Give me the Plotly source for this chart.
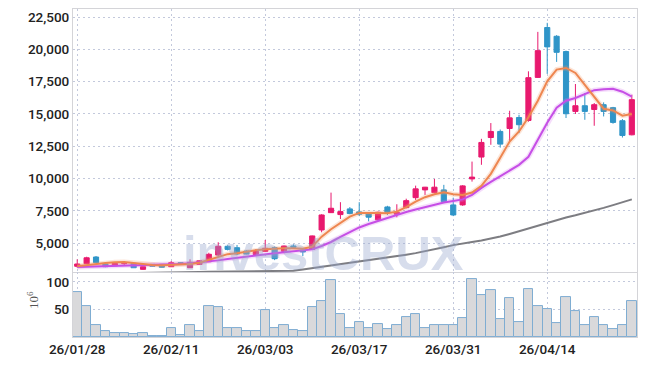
import plotly.graph_objects as go
from plotly.subplots import make_subplots

dates = ["26/01/28", "26/01/29", "26/01/30",
         "26/02/02", "26/02/03", "26/02/04", "26/02/05", "26/02/06", "26/02/09", "26/02/10",
         "26/02/11", "26/02/12", "26/02/13", "26/02/19", "26/02/20", "26/02/23", "26/02/24",
         "26/02/25", "26/02/26", "26/02/27",
         "26/03/03", "26/03/04", "26/03/05", "26/03/06", "26/03/09", "26/03/10", "26/03/11",
         "26/03/12", "26/03/13", "26/03/16", "26/03/17", "26/03/18", "26/03/19", "26/03/20",
         "26/03/23", "26/03/24", "26/03/25", "26/03/26", "26/03/27", "26/03/30", "26/03/31",
         "26/04/01", "26/04/02", "26/04/03", "26/04/06", "26/04/07", "26/04/08", "26/04/09",
         "26/04/10", "26/04/13", "26/04/14", "26/04/15", "26/04/16", "26/04/17", "26/04/20",
         "26/04/21", "26/04/22", "26/04/23", "26/04/24", "26/04/27"]

opens = [3220, 3420, 3940, 3400, 3260, 3420, 3450, 2985, 3370, 3370,
         3190, 3500, 3110, 3370, 3570, 4090, 4770, 4660, 4400, 4120,
         4380, 4660, 4380, 4790, 4480, 4535, 6030, 7370, 7220, 7660,
         7430, 7330, 6810, 7810, 7250, 7760, 8530, 9130, 8920, 9130,
         7970, 7970, 9980, 11670, 13180, 13650, 13880, 14730, 14500, 17830,
         21690, 21010, 19830, 15200, 15640, 15350, 15720, 15490, 14480, 13390]
highs = [3760, 3960, 4016, 3527, 3500, 3530, 3480, 3200, 3400, 3390,
         3630, 3520, 3760, 3700, 4270, 5080, 4850, 4870, 4450, 4535,
         5256, 4750, 4820, 4920, 4550, 5600, 7250, 8920, 8180, 7800,
         8180, 7420, 7450, 7900, 8020, 8450, 9460, 9360, 9980, 9520,
         8530, 9500, 11320, 13080, 14300, 13800, 15250, 14940, 18300, 21350,
         22050, 21100, 19900, 17320, 16630, 15850, 15900, 15550, 14610, 16490]
lows = [3110, 3400, 3480, 3150, 3240, 3330, 3100, 2950, 3200, 3130,
        3180, 3380, 3100, 3350, 3550, 4000, 4450, 4090, 4150, 4100,
        4350, 3700, 4230, 4600, 4016, 4500, 5850, 7350, 6880, 7250,
        7100, 6700, 6750, 7190, 7015, 7700, 8350, 8740, 8850, 8200,
        7100, 7900, 9770, 11070, 12620, 12400, 12870, 13520, 14400, 17800,
        18100, 19030, 14690, 15000, 14550, 14090, 14810, 14250, 13180, 13350]
closes = [3400, 3880, 3500, 3190, 3450, 3440, 3110, 3190, 3220, 3150,
          3500, 3400, 3530, 3650, 4150, 4770, 4530, 4170, 4170, 4380,
          4610, 3810, 4790, 4700, 4330, 5570, 7190, 7710, 7450, 7300,
          7250, 7020, 7400, 7400, 7400, 8300, 9210, 9340, 9340, 8220,
          7190, 9440, 10120, 12800, 13650, 12670, 14700, 14170, 17810, 19900,
          20190, 19770, 15020, 15640, 15200, 15720, 15200, 14350, 13340, 16110]

# volume in millions of shares (axis unit 10^6)
volumes = [81, 57, 21, 11, 7, 7, 5, 7, 1, 1,
           16, 3, 21, 11, 57, 55, 17, 17, 11, 11,
           49, 16, 21, 12, 11, 55, 66, 103, 41, 16,
           27, 17, 23, 14, 21, 36, 41, 16, 21, 21,
           21, 34, 106, 76, 86, 32, 70, 27, 88, 57,
           50, 25, 72, 48, 21, 36, 21, 14, 21, 65]

ma5 = [3220, 3318, 3396, 3473, 3527, 3550, 3473, 3373, 3318, 3295,
       3318, 3342, 3396, 3497, 3706, 3962, 4160, 4225, 4349, 4458,
       4535, 4581, 4612, 4612, 4581, 4736, 5512, 6085, 6597, 7062,
       7348, 7372, 7348, 7325, 7449, 7790, 8224, 8565, 8798, 8953,
       8798, 8743, 8922, 9441, 10371, 11611, 12874, 13649, 14750, 16028,
       17524, 18430, 18562, 18175, 17268, 16315, 15408, 15277, 14865, 14997]
ma20 = [3163, 3180, 3202, 3220, 3240, 3260, 3280, 3300, 3318, 3340,
        3357, 3395, 3450, 3510, 3580, 3680, 3780, 3880, 3970, 4060,
        4150, 4230, 4300, 4370, 4440, 4530, 4791, 5101, 5488, 5876,
        6225, 6496, 6728, 6961, 7232, 7426, 7620, 7813, 8007, 8162,
        8278, 8395, 8743, 9286, 9751, 10177, 10603, 11068, 11688, 13006,
        14323, 15486, 16028, 16237, 16571, 16842, 16919, 16958, 16726, 16338]
ma60 = [2480, 2530, 2580, 2620, 2650, 2680, 2700, 2720, 2735, 2750,
        2760, 2765, 2770, 2785, 2795, 2800, 2805, 2810, 2815, 2825,
        2835, 2845, 2860, 2880, 2980, 3080, 3190, 3300, 3410, 3520,
        3620, 3720, 3820, 3920, 4020, 4120, 4240, 4380, 4530, 4700,
        4860, 5000, 5100, 5220, 5360, 5520, 5720, 5930, 6150, 6380,
        6600, 6820, 7000, 7170, 7340, 7530, 7740, 7950, 8160, 8400]

price_ticks = [5000, 7500, 10000, 12500, 15000, 17500, 20000, 22500]
volume_ticks = [50, 100]
tick_dates = [dates[i] for i in range(0, len(dates), 10)]

UP = "#e8196e"
DOWN = "#2f95c8"
GRID = "#c3c9dc"
FRAME = "#d4d4d8"
TICK_FONT = dict(family="Roboto, sans-serif", size=13.5, color="#222222", weight=500)

fig = make_subplots(rows=2, cols=1, shared_xaxes=True, vertical_spacing=0,
                    row_heights=[0.802, 0.198])

fig.add_trace(go.Bar(x=dates, y=volumes, marker=dict(color="#d9d9db",
                     line=dict(color="#7fadd2", width=1)), hoverinfo="skip"), row=2, col=1)

fig.add_trace(go.Scatter(x=dates, y=ma60, mode="lines",
                         line=dict(color="#7d7d82", width=2)), row=1, col=1)
fig.add_trace(go.Scatter(x=dates, y=ma20, mode="lines",
                         line=dict(color="rgba(214,120,240,0.25)", width=5)), row=1, col=1)
fig.add_trace(go.Scatter(x=dates, y=ma5, mode="lines",
                         line=dict(color="rgba(245,150,100,0.25)", width=5)), row=1, col=1)

fig.add_trace(go.Candlestick(x=dates, open=opens, high=highs, low=lows, close=closes,
                             increasing=dict(line=dict(color=UP, width=1), fillcolor=UP),
                             decreasing=dict(line=dict(color=DOWN, width=1), fillcolor=DOWN),
                             whiskerwidth=0), row=1, col=1)

fig.add_trace(go.Scatter(x=dates, y=ma20, mode="lines",
                         line=dict(color="#c64ee6", width=2)), row=1, col=1)
fig.add_trace(go.Scatter(x=dates, y=ma5, mode="lines",
                         line=dict(color="#ee8650", width=2)), row=1, col=1)

fig.update_layout(
    width=647, height=366,
    margin=dict(l=73, r=10, t=9, b=29),
    paper_bgcolor="white", plot_bgcolor="white",
    showlegend=False, bargap=0.0, boxgap=0.22,
    font=TICK_FONT,
)

common_x = dict(type="category", range=[-0.45, 59.55], tickmode="array",
                tickvals=tick_dates, ticktext=tick_dates, automargin=False,
                showgrid=True, gridcolor=GRID, griddash="2px,3px", gridwidth=1,
                showline=True, linecolor=FRAME, linewidth=1, ticks="")
fig.update_xaxes(**common_x, rangeslider_visible=False, showticklabels=False,
                 mirror=True, row=1, col=1)
fig.update_xaxes(**common_x, showticklabels=True, tickfont=TICK_FONT, row=2, col=1)

fig.update_yaxes(range=[2776, 23120], tickvals=price_ticks, tickformat=",d",
                 showgrid=True, gridcolor=GRID, griddash="2px,3px", zeroline=False,
                 showline=True, linecolor=FRAME, mirror=True, tickfont=TICK_FONT,
                 automargin=False, row=1, col=1)
fig.update_yaxes(range=[0, 118], tickvals=volume_ticks, tickformat=",d",
                 showgrid=True, gridcolor=GRID, griddash="2px,3px", zeroline=False,
                 showline=True, linecolor=FRAME, mirror=True, tickfont=TICK_FONT,
                 automargin=False, row=2, col=1)

fig.add_annotation(text="10<sup>6</sup>", xref="paper", yref="paper", x=-0.071, y=0.113,
                   xanchor="center", yanchor="middle",
                   textangle=-90, showarrow=False,
                   font=dict(family="Liberation Serif, DejaVu Serif, serif", size=13,
                             color="#555555", weight="normal"))
fig.add_annotation(text="investCRUX", xref="paper", yref="paper", x=0.445, y=0.255,
                   xanchor="center", yanchor="middle", showarrow=False,
                   font=dict(family="Liberation Sans, Arial, sans-serif", size=49,
                             color="rgba(150,165,205,0.38)", weight="bold"))

fig.write_html("out.html", config={"displayModeBar": False},
               post_script="document.body.style.margin='0';document.body.style.padding='0';")
